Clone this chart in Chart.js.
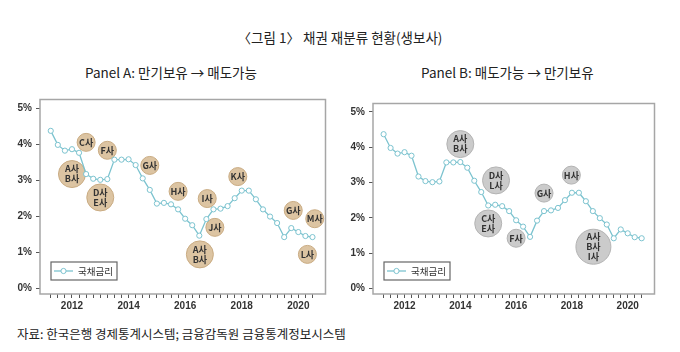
<!DOCTYPE html>
<html>
<head>
<meta charset="utf-8">
<script src="https://cdn.jsdelivr.net/npm/chart.js@4.4.0/dist/chart.umd.min.js"></script>
<style>
body { margin: 0; background: #fff; width: 680px; height: 352px; position: relative; overflow: hidden; font-family: "Noto Sans CJK KR", sans-serif; }
.txt { position: absolute; white-space: nowrap; color: #222; line-height: 16px; }
.box { position: absolute; top: 85px; }
</style>
</head>
<body>
<div class="txt" style="left:0;width:680px;text-align:center;top:29px;font-size:13.5px">〈그림 1〉 채권 재분류 현황(생보사)</div>
<div class="txt" style="left:85px;top:64px;font-size:13.5px">Panel A: 만기보유 → 매도가능</div>
<div class="txt" style="left:421px;top:64px;font-size:13.5px">Panel B: 매도가능 → 만기보유</div>
<div class="box" style="left:0"><canvas id="chartA" width="340" height="233"></canvas></div>
<div class="box" style="left:333px"><canvas id="chartB" width="340" height="233"></canvas></div>
<div class="txt" style="left:17px;top:326px;font-size:12.5px">자료: 한국은행 경제통계시스템; 금융감독원 금융통계정보시스템</div>
<script>
// government bond yield, quarterly
var quarters = ['2011Q2', '2011Q3', '2011Q4',
    '2012Q1', '2012Q2', '2012Q3', '2012Q4', '2013Q1', '2013Q2', '2013Q3', '2013Q4',
    '2014Q1', '2014Q2', '2014Q3', '2014Q4', '2015Q1', '2015Q2', '2015Q3', '2015Q4',
    '2016Q1', '2016Q2', '2016Q3', '2016Q4', '2017Q1', '2017Q2', '2017Q3', '2017Q4',
    '2018Q1', '2018Q2', '2018Q3', '2018Q4', '2019Q1', '2019Q2', '2019Q3', '2019Q4',
    '2020Q1', '2020Q2', '2020Q3'];
var rates = [4.37, 3.98, 3.82,
    3.86, 3.76, 3.17, 3.04, 3.01, 3.03, 3.57, 3.57,
    3.58, 3.42, 3.05, 2.73, 2.35, 2.37, 2.33, 2.19,
    1.93, 1.75, 1.46, 1.92, 2.19, 2.21, 2.28, 2.50,
    2.71, 2.71, 2.47, 2.19, 1.99, 1.81, 1.42, 1.67,
    1.56, 1.45, 1.42];
var yTicks = [0, 1, 2, 3, 4, 5];
var xLabelYears = [2012, 2014, 2016, 2018, 2020];

// Panel A: held-to-maturity -> available-for-sale
var namesA = [['C사'], ['F사'], ['A사', 'B사'], ['D사', 'E사'], ['G사'], ['H사'], ['I사'],
    ['K사'], ['G사'], ['M사'], ['J사'], ['A사', 'B사'], ['L사']];
var yearsA = [2012.5, 2013.25, 2012.0, 2013.0, 2014.75, 2015.75, 2016.78,
    2017.86, 2019.82, 2020.58, 2017.05, 2016.52, 2020.32];
var levelsA = [4.05, 3.83, 3.17, 2.52, 3.41, 2.69, 2.49,
    3.10, 2.16, 1.93, 1.69, 0.94, 0.94];

// Panel B: available-for-sale -> held-to-maturity
var namesB = [['A사', 'B사'], ['D사', 'L사'], ['G사'], ['H사'], ['C사', 'E사'], ['F사'], ['A사', 'B사', 'I사']];
var yearsB = [2014.0, 2015.28, 2017.0, 2017.98, 2015.0, 2016.0, 2018.77];
var levelsB = [4.09, 3.06, 2.70, 3.21, 1.84, 1.42, 1.18];

var lineColor = '#7cc3cf';
var bubbleRadius = { 1: 9, 2: 13.5, 3: 17.5 };

function quarterToYear(q) {
    return parseInt(q.slice(0, 4)) + (parseInt(q.slice(5)) - 1) / 4;
}

var framePlugin = {
    id: 'frame',
    afterDraw: function (chart) {
        var ctx = chart.ctx, ca = chart.chartArea;
        ctx.save();
        ctx.strokeStyle = '#a6a6a6';
        ctx.lineWidth = 1.5;
        ctx.strokeRect(ca.left, ca.top, ca.right - ca.left, ca.bottom - ca.top);

        // legend box
        var lx = ca.left + 11, ly = ca.bottom - 32, lw = 66, lh = 18;
        ctx.fillStyle = '#fff';
        ctx.fillRect(lx, ly, lw, lh);
        ctx.strokeStyle = '#666';
        ctx.lineWidth = 1.2;
        ctx.strokeRect(lx, ly, lw, lh);
        var my = ly + lh / 2;
        ctx.strokeStyle = lineColor;
        ctx.lineWidth = 1.3;
        ctx.beginPath();
        ctx.moveTo(lx + 3, my);
        ctx.lineTo(lx + 22, my);
        ctx.stroke();
        ctx.beginPath();
        ctx.arc(lx + 12.5, my, 2.6, 0, Math.PI * 2);
        ctx.fillStyle = '#fff';
        ctx.fill();
        ctx.lineWidth = 1;
        ctx.stroke();
        ctx.fillStyle = '#333';
        ctx.font = '9.5px "Noto Sans CJK KR"';
        ctx.textBaseline = 'middle';
        ctx.fillText('국채금리', lx + 27, my + 0.5);
        ctx.restore();
    }
};

var bubbleLabelPlugin = {
    id: 'bubbleLabels',
    afterDatasetsDraw: function (chart) {
        var ctx = chart.ctx;
        var ds = chart.data.datasets[1];
        var meta = chart.getDatasetMeta(1);
        ctx.save();
        ctx.fillStyle = '#333';
        ctx.font = 'bold 9px "Noto Sans CJK KR"';
        ctx.textAlign = 'center';
        ctx.textBaseline = 'middle';
        meta.data.forEach(function (el, i) {
            var lines = ds.names[i];
            var top = el.y - (lines.length - 1) * 5;
            lines.forEach(function (s, j) {
                ctx.fillText(s, el.x, top + j * 10);
            });
        });
        ctx.restore();
    }
};

function makeChart(id, names, years, levels, fill, edge) {
    var ctx = document.getElementById(id);
    return new Chart(ctx, {
        type: 'line',
        data: {
            datasets: [{
                type: 'line',
                label: '국채금리',
                data: quarters.map(function (q, i) { return { x: quarterToYear(q), y: rates[i] }; }),
                borderColor: lineColor,
                borderWidth: 1.3,
                pointRadius: 2.6,
                pointBackgroundColor: '#fff',
                pointBorderColor: lineColor,
                pointBorderWidth: 1,
                tension: 0,
                order: 0
            }, {
                type: 'bubble',
                names: names,
                data: years.map(function (x, i) { return { x: x, y: levels[i], r: bubbleRadius[names[i].length] }; }),
                backgroundColor: fill,
                borderColor: edge,
                borderWidth: 1,
                order: 1
            }]
        },
        options: {
            responsive: false,
            animation: false,
            events: [],
            layout: { padding: { top: 5, right: 8, left: 0, bottom: 0 } },
            plugins: { legend: { display: false }, tooltip: { enabled: false } },
            scales: {
                x: {
                    type: 'linear',
                    min: 2010.87,
                    max: 2020.96,
                    afterBuildTicks: function (axis) {
                        axis.ticks = quarters.map(function (q) { return { value: quarterToYear(q) }; });
                    },
                    afterFit: function (scale) { scale.height = 24; },
                    border: { display: false },
                    grid: { drawOnChartArea: false, drawTicks: true, tickLength: 4, color: '#555' },
                    ticks: {
                        autoSkip: false,
                        maxRotation: 0,
                        padding: 2,
                        color: '#333',
                        font: { family: 'Liberation Sans', size: 10, weight: 'bold' },
                        callback: function (v) { return xLabelYears.indexOf(v) >= 0 ? String(v) : ''; }
                    }
                },
                y: {
                    min: -0.16,
                    max: 5.24,
                    afterBuildTicks: function (axis) {
                        axis.ticks = yTicks.map(function (v) { return { value: v }; });
                    },
                    afterFit: function (scale) { scale.width = 40; },
                    border: { display: false },
                    grid: { drawOnChartArea: false, drawTicks: true, tickLength: 4, color: '#555' },
                    ticks: {
                        padding: 4,
                        color: '#333',
                        font: { family: 'Liberation Sans', size: 10, weight: 'bold' },
                        callback: function (v) { return v + '%'; }
                    }
                }
            }
        },
        plugins: [framePlugin, bubbleLabelPlugin]
    });
}

var chartA = makeChart('chartA', namesA, yearsA, levelsA, '#dcc4a2', '#c9ab82');
var chartB = makeChart('chartB', namesB, yearsB, levelsB, '#cbcbcb', '#b3b3b3');
</script>
</body>
</html>
